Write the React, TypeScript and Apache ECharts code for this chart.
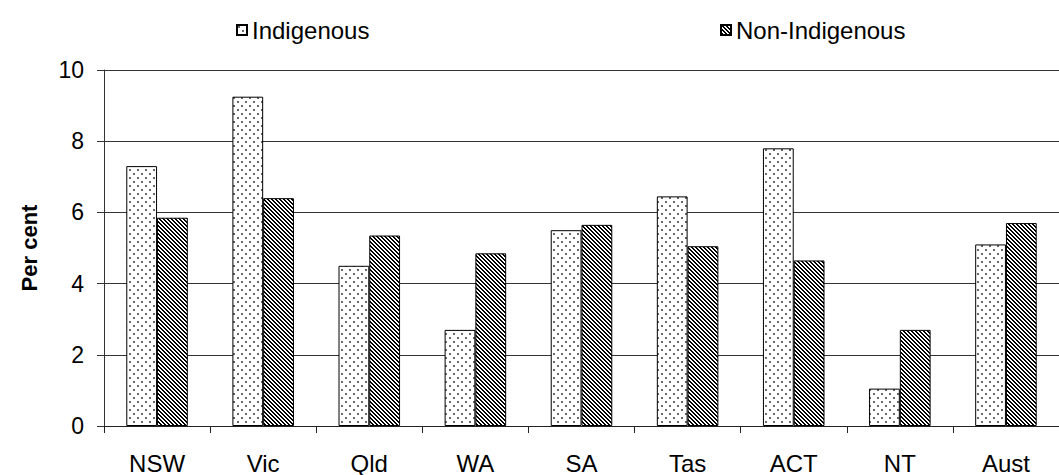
import { useEffect, useRef } from "react";
import * as echarts from "echarts";

// Per cent, by jurisdiction
const categories = ["NSW", "Vic", "Qld", "WA", "SA", "Tas", "ACT", "NT", "Aust"];
const indigenous = [7.3, 9.25, 4.5, 2.7, 5.5, 6.45, 7.8, 1.05, 5.1];
const nonIndigenous = [5.85, 6.4, 5.35, 4.85, 5.65, 5.05, 4.65, 2.7, 5.7];
const yMin = 0;
const yMax = 10;
const yStep = 2;

const FONT = "'Liberation Sans', Arial, sans-serif";

// Sparse staggered dot fill
function makeDots(): HTMLCanvasElement {
  const c = document.createElement("canvas");
  c.width = 8;
  c.height = 8;
  const ctx = c.getContext("2d")!;
  ctx.fillStyle = "#ffffff";
  ctx.fillRect(0, 0, 8, 8);
  ctx.fillStyle = "#6a6a6a";
  ctx.fillRect(1, 1, 2, 2);
  ctx.fillRect(5, 5, 2, 2);
  return c;
}

// Dark downward diagonal stripes
function makeStripes(): HTMLCanvasElement {
  const c = document.createElement("canvas");
  c.width = 8;
  c.height = 8;
  const ctx = c.getContext("2d")!;
  ctx.fillStyle = "#ffffff";
  ctx.fillRect(0, 0, 8, 8);
  ctx.fillStyle = "#000000";
  for (let y = 0; y < 8; y++) {
    for (let x = 0; x < 8; x++) {
      if ((((x - y) % 4) + 4) % 4 < 2) ctx.fillRect(x, y, 1, 1);
    }
  }
  return c;
}

export default function App() {
  const ref = useRef<HTMLDivElement>(null);

  useEffect(() => {
    if (!ref.current) return;
    const chart = echarts.init(ref.current, undefined, { renderer: "svg" });

    const dots = { image: makeDots(), repeat: "repeat", imageWidth: 8, imageHeight: 8 } as any;
    const stripes = { image: makeStripes(), repeat: "repeat", imageWidth: 8, imageHeight: 8 } as any;

    const legendText = { fontSize: 24, fontFamily: FONT, color: "#000" };

    chart.setOption({
      animation: false,
      backgroundColor: "#ffffff",
      textStyle: { fontFamily: FONT },
      legend: [
        {
          data: ["Indigenous"],
          left: 231,
          top: 13,
          icon: "rect",
          itemWidth: 10,
          itemHeight: 10,
          selectedMode: false,
          textStyle: legendText,
        },
        {
          data: ["Non-Indigenous"],
          left: 715,
          top: 13,
          icon: "rect",
          itemWidth: 10,
          itemHeight: 10,
          selectedMode: false,
          textStyle: legendText,
        },
      ],
      grid: { left: 104, top: 70, width: 965, bottom: 47, containLabel: false },
      xAxis: {
        type: "category",
        data: categories,
        boundaryGap: true,
        axisLine: { show: true, lineStyle: { color: "#222", width: 1 } },
        axisTick: { show: true, length: 7, alignWithLabel: false, lineStyle: { color: "#222" } },
        axisLabel: { fontSize: 24, fontFamily: FONT, color: "#000", margin: 25 },
        splitLine: { show: false },
      },
      yAxis: {
        type: "value",
        min: yMin,
        max: yMax,
        interval: yStep,
        name: "Per cent",
        nameLocation: "middle",
        nameRotate: 90,
        nameGap: 64,
        nameTextStyle: { fontSize: 22, fontWeight: "bold", fontFamily: FONT, color: "#000" },
        axisLine: { show: true, lineStyle: { color: "#333", width: 1 } },
        axisTick: { show: true, inside: false, length: 7, lineStyle: { color: "#333" } },
        axisLabel: { fontSize: 23, fontFamily: FONT, color: "#000", margin: 20 },
        splitLine: { show: true, lineStyle: { color: "#333", width: 1 } },
      },
      series: [
        {
          name: "Indigenous",
          type: "bar",
          data: indigenous,
          barGap: "0%",
          barCategoryGap: "42%",
          itemStyle: { color: dots, borderColor: "#000", borderWidth: 1 },
        },
        {
          name: "Non-Indigenous",
          type: "bar",
          data: nonIndigenous,
          barGap: "0%",
          barCategoryGap: "42%",
          itemStyle: { color: stripes, borderColor: "#000", borderWidth: 1 },
        },
      ],
    });

    return () => chart.dispose();
  }, []);

  return (
    <div
      ref={ref}
      style={{ position: "fixed", left: 0, top: 0, width: 1059, height: 475 }}
    />
  );
}
